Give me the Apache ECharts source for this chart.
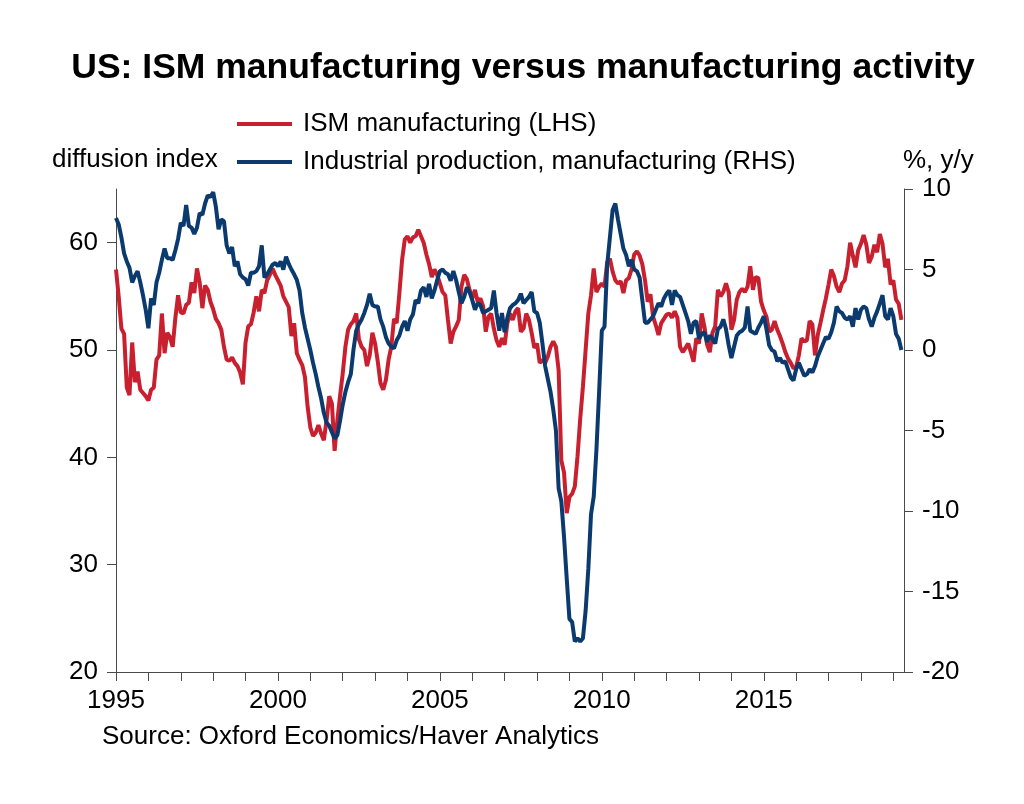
<!DOCTYPE html>
<html>
<head>
<meta charset="utf-8">
<title>US: ISM manufacturing versus manufacturing activity</title>
<script src="https://cdn.jsdelivr.net/npm/echarts@6/dist/echarts.min.js"></script>
<style>
  html, body { margin: 0; padding: 0; background: #fff; }
  #chart { width: 1024px; height: 804px; }
</style>
</head>
<body>
<div id="chart"></div>
<script>
// monthly data, first value = Jan 1995
const startYear = 1995;

// ISM manufacturing, diffusion index (LHS)
const ism = [
  57.5, 55.0, 52.0, 51.5, 46.5, 45.8, 50.7, 47.0, 48.0, 46.3, 46.0, 45.7,
  45.3, 46.3, 46.5, 49.1, 49.5, 53.4, 49.7, 51.6, 51.2, 50.3, 53.0, 55.1,
  53.5, 53.4, 54.2, 54.4, 56.3, 55.3, 57.6, 56.3, 53.9, 56.0, 55.6, 54.5,
  53.8, 52.9, 52.5, 51.9, 50.3, 49.1, 49.0, 49.3, 48.8, 48.5, 47.9, 46.8,
  50.7, 52.2, 52.4, 53.5, 55.0, 53.6, 55.6, 55.3, 56.5, 57.0, 57.6, 57.0,
  56.5, 56.0, 55.0, 54.5, 54.0, 51.3, 52.5, 49.7, 49.1, 48.6, 47.5, 44.7,
  42.8, 42.0, 42.3, 43.0, 42.2, 41.6, 43.4, 45.7, 45.0, 40.6, 43.4, 45.7,
  47.8, 50.3, 51.9, 52.4, 52.7, 53.4, 51.0, 50.3, 50.0, 48.5, 49.5, 51.6,
  50.6, 48.9, 46.9, 46.3, 47.2, 49.1, 50.3, 52.9, 52.5, 55.3, 58.4, 60.3,
  60.6, 60.0, 60.5, 60.6, 61.2, 60.6, 60.0, 58.9, 58.0, 56.8, 57.5, 57.0,
  56.2, 55.4, 55.1, 52.8, 50.6, 51.7, 52.2, 52.8, 55.9, 57.0, 56.6, 55.6,
  54.8, 55.6, 54.5, 54.8, 54.1, 51.7, 53.1, 53.4, 52.0, 50.9, 50.3, 51.1,
  50.5, 52.5, 53.4, 52.8, 53.6, 53.9, 51.7, 52.0, 53.4, 52.8, 51.6, 50.2,
  50.6, 48.8, 49.1, 48.8, 49.4, 50.3, 50.8, 50.3, 48.1, 39.7, 38.6, 34.8,
  36.3, 36.6, 37.3, 40.1, 43.6, 46.6, 50.0, 53.4, 55.1, 57.6, 55.4, 55.9,
  56.2, 55.9, 58.2, 58.5, 57.3, 56.5, 56.2, 56.4, 55.3, 56.5, 56.7, 57.5,
  58.9, 59.2, 58.8, 58.0, 56.5, 54.5, 55.2, 53.1, 52.3, 51.4, 52.5, 52.9,
  53.3, 53.4, 53.0, 53.6, 53.0, 50.3, 49.8, 50.2, 50.6, 49.8, 48.9, 51.1,
  50.6, 53.4, 52.2, 50.5, 49.8, 51.6, 52.2, 55.6, 55.0, 55.4, 56.2, 55.4,
  51.9, 52.8, 54.7, 55.4, 55.7, 55.4, 55.9, 57.8, 55.6, 56.8, 56.7, 54.5,
  53.7, 53.1, 51.7, 51.9, 52.7, 51.9, 51.3, 50.6, 49.8, 49.2, 48.8, 48.3,
  48.4, 49.5, 51.1, 50.8, 50.9, 52.7, 52.4, 49.5, 51.4, 52.5, 53.7, 54.8,
  56.1, 57.5, 56.9, 55.9, 55.4, 56.2, 56.5, 57.8, 60.0, 58.8, 57.7, 59.3,
  59.9, 60.7, 59.8, 58.1, 58.7, 59.8, 59.1, 60.8, 59.9, 57.7, 58.5, 56.1,
  56.5, 54.7, 54.3, 52.8
];

// Industrial production, manufacturing, % y/y (RHS)
const ipMfg = [
  8.2, 7.8, 7.0, 6.0, 5.5, 5.1, 4.2, 4.6, 4.9, 4.2, 3.4, 2.5,
  1.35, 3.2, 2.8, 4.2, 4.8, 5.6, 6.3, 5.7, 5.7, 5.6, 6.2, 6.9,
  7.9, 7.7, 9.0, 7.7, 7.6, 7.2, 7.6, 8.5, 8.4, 9.1, 9.6, 9.5,
  9.8, 8.9, 7.5, 8.1, 8.0, 6.5, 6.0, 6.4, 5.2, 5.5, 4.7, 4.5,
  4.4, 4.0, 4.8, 4.8, 4.9, 5.2, 6.5, 4.5, 4.7, 5.0, 5.3, 5.4,
  5.2, 5.5, 5.0, 5.8, 5.35, 5.0, 4.7, 4.35, 3.7, 2.3, 1.4, 0.7,
  0.0, -0.8, -1.5, -2.3, -3.0, -3.9, -4.5, -4.7, -5.1, -5.5, -5.3, -4.4,
  -3.4, -2.6, -2.0, -1.5, 0.05, 1.2, 1.6, 1.9, 2.3, 2.8, 3.5, 2.8,
  2.7, 2.7, 1.9, 1.45, 0.8, 0.4, 0.2, 0.1, 0.6, 0.9, 1.45, 1.8,
  1.2, 1.9, 2.2, 3.1, 2.9, 3.7, 3.9, 3.3, 4.1, 3.2, 3.7, 4.35,
  4.9, 5.0, 4.8, 4.7, 4.3, 4.9, 4.35, 3.6, 2.9, 3.3, 3.9, 3.6,
  3.1, 2.5, 2.9, 2.8, 2.3, 2.4, 2.5, 2.6, 3.7, 2.3, 1.2, 2.3,
  1.1, 2.0, 2.6, 2.8, 2.9, 3.1, 3.5, 2.9, 3.1, 3.3, 3.6, 2.4,
  2.3, 1.7, 0.4, -1.0, -1.8, -2.6, -3.7, -5.0, -8.6, -9.4, -11.6, -14.2,
  -16.7, -16.9, -18.1, -17.9, -18.1, -17.9, -16.2, -13.6, -10.2, -9.1, -6.2, -2.6,
  1.2, 1.45, 5.3, 7.0, 8.7, 9.1, 8.1, 7.2, 6.3, 5.9, 5.2, 5.6,
  5.0, 4.9, 4.5, 3.1, 1.7, 1.7, 1.9, 2.1, 2.5, 2.9, 2.7, 3.2,
  3.5, 3.7, 2.8, 3.7, 3.4, 3.3, 2.8, 2.3, 1.8, 1.0, 1.7, 1.8,
  0.7, 1.0, 1.1, 0.5, 0.9, 0.7, 0.4, 1.3, 1.45, 1.9, 1.3, 0.3,
  -0.5, 0.2, 0.9, 1.1, 1.2, 1.4, 2.7, 1.2, 1.1, 1.0, 1.4, 1.7,
  2.1, 1.3, 0.3, 0.0, -0.1, -0.7, -0.5, -0.8, -0.7, -1.2, -1.7, -1.9,
  -1.2, -0.8, -1.2, -1.6, -1.5, -1.2, -1.4, -1.0, -0.4, 0.0, 0.4, 0.8,
  0.7, 1.1, 1.7, 2.7, 2.4, 2.3, 2.0, 1.9, 2.1, 1.45, 2.6, 1.9,
  2.5, 2.7, 2.6, 1.9, 1.45, 2.0, 2.4, 2.9, 3.4, 2.1, 1.9, 2.6,
  2.1, 1.0, 0.7, 0.0
];

const yearTicks = [1995, 1996, 1997, 1998, 1999, 2000, 2001, 2002, 2003, 2004, 2005, 2006,
  2007, 2008, 2009, 2010, 2011, 2012, 2013, 2014, 2015, 2016, 2017, 2018, 2019];
const yearLabels = [1995, 2000, 2005, 2010, 2015];
const leftTicks = [20, 30, 40, 50, 60];

const seriesNames = ["ISM manufacturing (LHS)", "Industrial production, manufacturing (RHS)"];
const red = "#c8202f";
const navy = "#0b3a6e";
const axisGrey = "#4a4a4a";
const font = "'Liberation Sans', Arial, sans-serif";

function toPoints(values) {
  return values.map((v, i) => [startYear + i / 12, v]);
}

const chart = echarts.init(document.getElementById("chart"));

chart.setOption({
  animation: false,
  backgroundColor: "#fff",
  textStyle: { fontFamily: font },
  grid: { left: 116, right: 120, top: 189, bottom: 132 },
  legend: {
    data: seriesNames,
    orient: "vertical",
    left: 237,
    top: 111,
    padding: 0,
    icon: "rect",
    itemWidth: 55,
    itemHeight: 4,
    itemGap: 12,
    textStyle: { fontSize: 26, lineHeight: 26, color: "#000", fontFamily: font, padding: [0, 0, 0, 6] },
  },
  graphic: [
    {
      type: "text",
      x: 523,
      y: 68,
      style: {
        text: "US: ISM manufacturing versus manufacturing activity",
        font: `bold 35.5px ${font}`,
        fill: "#000",
        align: "center",
        verticalAlign: "middle",
      },
    },
    {
      type: "text",
      x: 52,
      y: 160,
      style: { text: "diffusion index", font: `26px ${font}`, fill: "#000", verticalAlign: "middle" },
    },
    {
      type: "text",
      x: 903,
      y: 161,
      style: { text: "%, y/y", font: `26px ${font}`, fill: "#000", verticalAlign: "middle" },
    },
    {
      type: "text",
      x: 102,
      y: 737,
      style: {
        text: "Source: Oxford Economics/Haver Analytics",
        font: `26px ${font}`,
        fill: "#000",
        verticalAlign: "middle",
      },
    },
  ],
  xAxis: {
    type: "value",
    min: 1995,
    max: 2019.33,
    axisLine: { show: true, onZero: false, lineStyle: { color: axisGrey, width: 1 } },
    axisTick: { show: true, customValues: yearTicks, length: 9, lineStyle: { color: axisGrey } },
    axisLabel: {
      customValues: yearLabels,
      fontSize: 26,
      color: "#000",
      margin: 16,
      formatter: (v) => String(Math.round(v)),
    },
    splitLine: { show: false },
  },
  yAxis: [
    {
      type: "value",
      position: "left",
      min: 20,
      max: 65,
      axisLine: { show: true, lineStyle: { color: axisGrey, width: 1 } },
      axisTick: { show: true, customValues: leftTicks, length: 9, lineStyle: { color: axisGrey } },
      axisLabel: { customValues: leftTicks, fontSize: 26, color: "#000", margin: 18 },
      splitLine: { show: false },
    },
    {
      type: "value",
      position: "right",
      min: -20,
      max: 10,
      interval: 5,
      axisLine: { show: true, lineStyle: { color: axisGrey, width: 1 } },
      axisTick: { show: true, length: 9, lineStyle: { color: axisGrey } },
      axisLabel: { fontSize: 26, color: "#000", margin: 18 },
      splitLine: { show: false },
    },
  ],
  series: [
    {
      name: seriesNames[0],
      type: "line",
      yAxisIndex: 0,
      data: toPoints(ism),
      showSymbol: false,
      symbol: "none",
      color: red,
      lineStyle: { color: red, width: 4 },
    },
    {
      name: seriesNames[1],
      type: "line",
      yAxisIndex: 1,
      data: toPoints(ipMfg),
      showSymbol: false,
      symbol: "none",
      color: navy,
      lineStyle: { color: navy, width: 4 },
    },
  ],
});
</script>
</body>
</html>
